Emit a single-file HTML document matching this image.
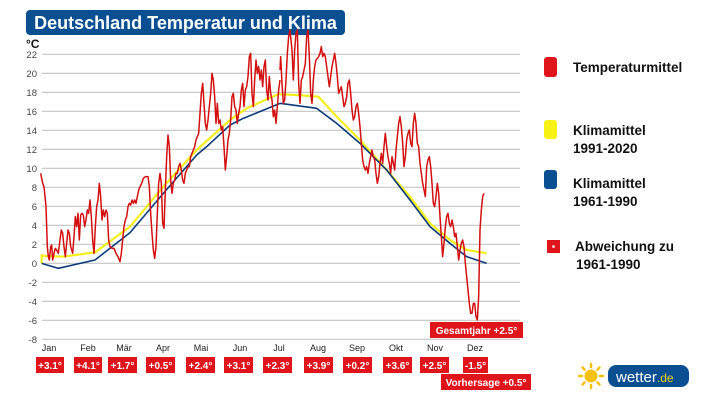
<!DOCTYPE html>
<html><head><meta charset="utf-8"><style>
body{margin:0;width:717px;height:403px;background:#fff;overflow:hidden;font-family:"Liberation Sans",sans-serif;}
svg{position:absolute;left:0;top:0}
</style></head><body>
<svg width="717" height="403" viewBox="0 0 717 403" xmlns="http://www.w3.org/2000/svg" font-family="Liberation Sans, sans-serif">
<rect x="26" y="10" width="319" height="25" rx="4" fill="#0b4f93"/>
<text x="185.5" y="29" text-anchor="middle" fill="#fff" font-size="18" font-weight="bold">Deutschland Temperatur und Klima</text>
<text x="26" y="48" font-size="12" font-weight="bold" fill="#111">°C</text>
<g stroke="#c4c4c4" stroke-width="1.2">
<line x1="42" x2="520" y1="54.3" y2="54.3"/><line x1="42" x2="520" y1="73.3" y2="73.3"/><line x1="42" x2="520" y1="92.3" y2="92.3"/><line x1="42" x2="520" y1="111.3" y2="111.3"/><line x1="42" x2="520" y1="130.3" y2="130.3"/><line x1="42" x2="520" y1="149.3" y2="149.3"/><line x1="42" x2="520" y1="168.3" y2="168.3"/><line x1="42" x2="520" y1="187.3" y2="187.3"/><line x1="42" x2="520" y1="206.3" y2="206.3"/><line x1="42" x2="520" y1="225.3" y2="225.3"/><line x1="42" x2="520" y1="244.3" y2="244.3"/><line x1="42" x2="520" y1="263.3" y2="263.3"/><line x1="42" x2="520" y1="282.3" y2="282.3"/><line x1="42" x2="520" y1="301.3" y2="301.3"/><line x1="42" x2="520" y1="320.3" y2="320.3"/><line x1="42" x2="520" y1="339.3" y2="339.3"/>
</g>
<g font-size="9.5" fill="#444" text-anchor="end">
<text x="37" y="58">22</text><text x="37" y="77">20</text><text x="37" y="96">18</text><text x="37" y="115">16</text><text x="37" y="134">14</text><text x="37" y="153">12</text><text x="37" y="172">10</text><text x="37" y="191">8</text><text x="37" y="210">6</text><text x="37" y="229">4</text><text x="37" y="248">2</text><text x="37" y="267">0</text><text x="37" y="286">-2</text><text x="37" y="305">-4</text><text x="37" y="324">-6</text><text x="37" y="343">-8</text>
</g>
<g fill="none" stroke-linejoin="round">
<g transform="translate(30,40) scale(0.33333)">
<polyline stroke="#f5ee1a" stroke-width="2.2" vector-effect="non-scaling-stroke" points="35,670 35,645 40,648 100,650 195,637 300,560 400,440 500,330 600,240 650,205 750,160"/>
<polyline stroke="#0b3a7a" stroke-width="1.6" vector-effect="non-scaling-stroke" points="35,670 85,685 195,660 300,578 400,460 500,345 530,320 600,255 640,235 750,190"/>
</g>
<g transform="translate(270,30) scale(0.33333)">
<polyline stroke="#f5ee1a" stroke-width="2.2" vector-effect="non-scaling-stroke" points="30,193 80,195 145,200 200,260 270,330 350,420 420,500 480,580 540,630 590,660 650,670"/>
<polyline stroke="#0b3a7a" stroke-width="1.6" vector-effect="non-scaling-stroke" points="30,220 140,235 200,280 270,340 350,420 420,510 480,590 540,640 590,680 650,700"/>
</g>
<g transform="translate(30,40) scale(0.33333)">
<polyline stroke="#d40f0f" stroke-width="1.5" vector-effect="non-scaling-stroke" points="32,400 38,430 42,440 48,500 52,620 55,650 58,660 62,620 65,615 68,660 72,640 76,625 80,630 85,640 90,600 94,570 98,580 102,620 106,650 110,610 114,570 118,580 122,620 128,640 132,590 136,530 140,560 144,520 148,600 152,525 156,520 160,525 164,560 168,540 172,510 176,520 180,480 184,530 188,600 192,640 196,560 200,500 204,480 208,430 212,470 216,540 220,510 224,530 228,510 232,520 236,600 240,620 246,625 252,625 258,640 264,650 270,665 274,640 278,600 282,560 286,540 290,530 294,500 298,490 302,495 306,480 310,490 314,480 318,490 322,470 326,450 330,440 335,430 340,415 346,410 354,410 358,440 362,520 366,580 370,630 374,655 378,620 382,520 386,430 390,400 394,430 398,550 402,565 406,450 410,350 414,285 418,320 422,420 426,460 430,430 434,420 438,400 442,400 446,380 450,370 454,390 458,420 462,430 466,400 470,390 474,380 478,380 482,350 486,340 490,330 494,320 498,300 502,290 506,280 510,220 514,160 518,130 522,190 526,250 530,270 534,240 538,200 542,160 546,100 550,120 554,170 558,250 562,190 566,250 570,240 574,270 578,260 582,320 586,390 590,350 594,300 598,280 602,240 606,170 610,160 614,200 618,210 622,250 626,220 630,200 634,150 638,130 642,200 646,150 650,140 654,110 658,50 662,40 666,160 670,200 674,120 678,60 682,100 686,80 690,120 694,90 698,140 702,80 706,60 710,150 714,180 718,110 722,160 726,180 730,230 734,210 738,250 742,200 746,150 750,120"/>
</g>
<g transform="translate(270,30) scale(0.33333)">
<polyline stroke="#d40f0f" stroke-width="1.5" vector-effect="non-scaling-stroke" points="30,120 32,80 36,160 40,220 44,210 48,150 52,70 56,20 60,0 66,60 70,150 74,60 78,10 82,0 86,160 90,220 94,150 98,140 102,120 106,100 110,20 114,0 118,80 122,190 126,220 130,150 134,110 138,90 142,85 146,80 150,70 154,50 158,80 162,70 166,80 170,110 174,140 178,170 182,140 186,110 190,90 194,70 198,100 202,140 206,190 210,180 214,170 218,200 222,230 226,220 230,200 234,160 238,150 242,190 246,240 250,270 254,260 258,230 262,220 266,250 270,290 274,340 278,390 282,410 286,420 290,410 294,430 298,400 302,380 306,360 310,380 314,390 318,430 322,460 326,440 330,400 334,370 338,400 342,350 346,310 350,350 354,380 358,400 362,430 366,380 370,400 374,420 378,360 382,320 386,280 390,260 394,290 398,340 402,410 406,380 410,330 414,310 418,300 422,340 426,350 430,280 434,250 438,280 442,340 446,350 450,400 454,430 458,460 462,480 466,500 470,410 474,390 478,380 482,410 486,460 490,520 494,530 498,500 502,460 506,490 510,560 514,620 518,680 522,640 526,590 530,560 534,550 538,580 542,590 546,570 550,590 554,620 558,610 562,650 566,690 570,660 574,640 578,630 582,650 586,700 590,740 594,780 598,820 602,850 606,850 610,820 614,820 618,860 622,870 626,800 630,600 634,540 638,500 642,490"/>
</g>
</g>
<g font-size="9" fill="#222" text-anchor="middle">
<text x="49" y="351">Jan</text><text x="88" y="351">Feb</text><text x="124" y="351">Mär</text><text x="163" y="351">Apr</text><text x="201" y="351">Mai</text><text x="240" y="351">Jun</text><text x="279" y="351">Jul</text><text x="318" y="351">Aug</text><text x="357" y="351">Sep</text><text x="396" y="351">Okt</text><text x="435" y="351">Nov</text><text x="475" y="351">Dez</text>
</g>
<g fill="#e0141b">
<rect x="36" y="357" width="28" height="16"/><rect x="74" y="357" width="28" height="16"/><rect x="108" y="357" width="29" height="16"/><rect x="146" y="357" width="29" height="16"/><rect x="186" y="357" width="29" height="16"/><rect x="224" y="357" width="29" height="16"/><rect x="263" y="357" width="29" height="16"/><rect x="304" y="357" width="29" height="16"/><rect x="343" y="357" width="29" height="16"/><rect x="383" y="357" width="29" height="16"/><rect x="420" y="357" width="29" height="16"/><rect x="463" y="357" width="25" height="16"/>
<rect x="430" y="322" width="93" height="16"/><rect x="441" y="374" width="90" height="16"/>
</g>
<g font-size="10" fill="#fff" font-weight="bold" text-anchor="middle">
<text x="50" y="369">+3.1°</text><text x="88" y="369">+4.1°</text><text x="122.5" y="369">+1.7°</text><text x="160.5" y="369">+0.5°</text><text x="200.5" y="369">+2.4°</text><text x="238.5" y="369">+3.1°</text><text x="277.5" y="369">+2.3°</text><text x="318.5" y="369">+3.9°</text><text x="357.5" y="369">+0.2°</text><text x="397.5" y="369">+3.6°</text><text x="434.5" y="369">+2.5°</text><text x="475.5" y="369">-1.5°</text>
<text x="476.5" y="334">Gesamtjahr +2.5°</text><text x="486" y="386">Vorhersage +0.5°</text>
</g>
<rect x="544" y="57" width="13" height="20" rx="3" fill="#e0141b"/>
<rect x="544" y="120" width="13" height="19" rx="3" fill="#f7f214"/>
<rect x="544" y="170" width="13" height="19" rx="3" fill="#0b4f93"/>
<rect x="547" y="240" width="13" height="13" fill="#e0141b"/><circle cx="553.5" cy="246.5" r="1.3" fill="#fff"/>
<g font-size="13.5" font-weight="bold" fill="#111">
<text x="573" y="72">Temperaturmittel</text>
<text x="573" y="135">Klimamittel</text><text x="573" y="153">1991-2020</text>
<text x="573" y="188">Klimamittel</text><text x="573" y="206">1961-1990</text>
<text x="575" y="251">Abweichung zu</text><text x="576" y="269">1961-1990</text>
</g>
<g transform="translate(591,376)">
<circle r="6.5" fill="#f4c20d"/>
<g stroke="#f4c20d" stroke-width="2.5" stroke-linecap="round">
<line x1="0" y1="-9" x2="0" y2="-12"/><line x1="0" y1="9" x2="0" y2="12"/><line x1="-9" y1="0" x2="-12" y2="0"/><line x1="9" y1="0" x2="12" y2="0"/>
<line x1="6.4" y1="6.4" x2="8.5" y2="8.5"/><line x1="-6.4" y1="6.4" x2="-8.5" y2="8.5"/><line x1="6.4" y1="-6.4" x2="8.5" y2="-8.5"/><line x1="-6.4" y1="-6.4" x2="-8.5" y2="-8.5"/>
</g></g>
<rect x="608" y="365" width="81" height="22" rx="8" fill="#0b4f93"/>
<text x="616" y="382" font-size="15" fill="#fff">wetter<tspan fill="#f4d20d" font-size="12">.de</tspan></text>
</svg>
</body></html>
